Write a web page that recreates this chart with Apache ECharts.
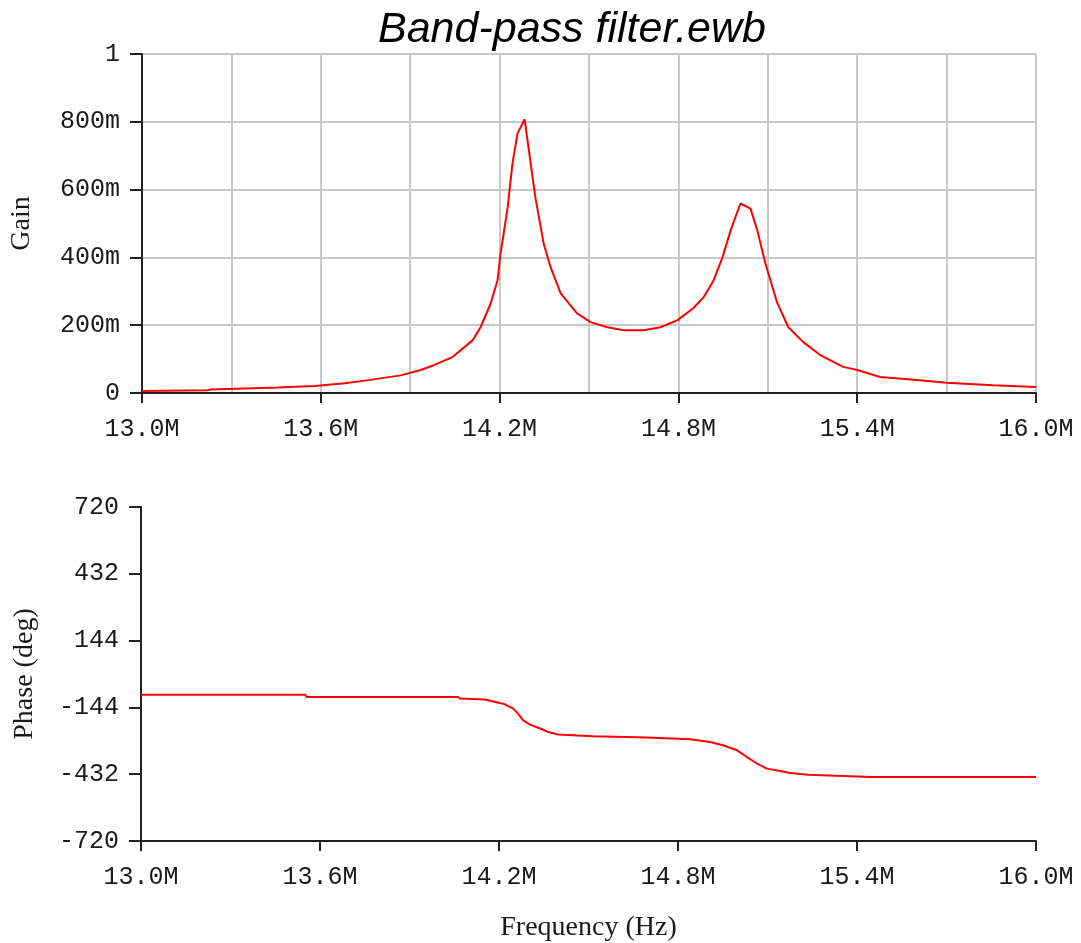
<!DOCTYPE html>
<html>
<head>
<meta charset="utf-8">
<title>Band-pass filter.ewb</title>
<script src="https://cdn.jsdelivr.net/npm/echarts@6/dist/echarts.min.js"></script>
<style>
	html, body { margin: 0; padding: 0; background: #fff; }
	#chart { width: 1081px; height: 943px; }
</style>
</head>
<body>
<div id="chart"></div>
<script>
'use strict'
/*--data--*/
var gainFreq = [13.0, 13.22, 13.23, 13.456, 13.58, 13.68, 13.76, 13.868, 13.935, 13.979,
	14.042, 14.11, 14.136, 14.17, 14.193, 14.203, 14.227, 14.243, 14.26, 14.284,
	14.297, 14.32, 14.348, 14.371, 14.405, 14.46, 14.505, 14.562, 14.616, 14.683,
	14.74, 14.797, 14.85, 14.884, 14.918, 14.948, 14.975, 15.008, 15.042, 15.065,
	15.092, 15.109, 15.132, 15.169, 15.219, 15.276, 15.353, 15.40, 15.477, 15.6,
	15.70, 15.856, 16.0];
var gainValues = [0.006, 0.008, 0.010, 0.016, 0.021, 0.029, 0.038, 0.052, 0.068, 0.082,
	0.106, 0.156, 0.194, 0.264, 0.332, 0.41, 0.547, 0.676, 0.765, 0.808,
	0.724, 0.577, 0.44, 0.371, 0.294, 0.235, 0.209, 0.194, 0.185, 0.185,
	0.194, 0.215, 0.25, 0.282, 0.332, 0.4, 0.479, 0.559, 0.544, 0.479,
	0.382, 0.332, 0.265, 0.194, 0.15, 0.112, 0.077, 0.068, 0.047, 0.038,
	0.030, 0.023, 0.018];

var phaseFreq = [13.0, 13.55, 13.555, 14.063, 14.07, 14.153, 14.187, 14.214, 14.248, 14.264,
	14.281, 14.304, 14.338, 14.365, 14.398, 14.515, 14.696, 14.84, 14.907, 14.951,
	14.998, 15.031, 15.065, 15.098, 15.142, 15.176, 15.236, 15.45, 16.0];
var phaseValues = [-89, -89, -99, -99, -106, -110, -121, -128, -149, -171,
	-200, -218, -235, -250, -261, -268, -274, -281, -293, -307,
	-329, -358, -386, -408, -418, -427, -434, -444, -444];

var freqTicks = [13.0, 13.6, 14.2, 14.8, 15.4, 16.0];
var gainTicks = [0, 0.2, 0.4, 0.6, 0.8, 1];
var phaseTicks = [-720, -432, -144, 144, 432, 720];
/*--data--*/

function pairs(xs, ys) {
	return xs.map(function (x, i) { return [x, ys[i]]; });
}

var monoLabel = {
	fontFamily: 'Liberation Mono',
	fontSize: 25,
	color: '#1a1a1a'
};
var nameStyle = {
	fontFamily: 'Liberation Serif',
	fontSize: 28,
	color: '#1a1a1a'
};
var axisLine = { show: true, onZero: false, lineStyle: { color: '#222', width: 2 } };
var gridLine = { color: '#c8c8c8', width: 2 };

var chart = echarts.init(document.getElementById('chart'));
var option = {
	animation: false,
	backgroundColor: '#fff',
	title: {
		text: 'Band-pass filter.ewb',
		left: 373,
		top: 4,
		textStyle: {
			fontFamily: 'Liberation Sans',
			fontStyle: 'italic',
			fontWeight: 'normal',
			fontSize: 43,
			color: '#000'
		}
	},
	grid: [
		{ left: 141, right: 45, top: 54, height: 339 },
		{ left: 141, right: 45, top: 507, height: 334 }
	],
	xAxis: [{
		gridIndex: 0,
		type: 'value',
		min: 13,
		max: 16,
		interval: 0.6,
		axisLine: axisLine,
		axisTick: { show: true, length: 10, customValues: freqTicks, lineStyle: { color: '#222', width: 2 } },
		minorTick: { show: false, splitNumber: 2 },
		axisLabel: Object.assign({
			margin: 24,
			customValues: freqTicks,
			formatter: function (v) { return v.toFixed(1) + 'M'; }
		}, monoLabel),
		splitLine: { show: true, lineStyle: gridLine },
		minorSplitLine: { show: true, lineStyle: gridLine }
	}, {
		gridIndex: 1,
		type: 'value',
		min: 13,
		max: 16,
		interval: 0.6,
		name: 'Frequency (Hz)',
		nameLocation: 'middle',
		nameGap: 73,
		nameTextStyle: nameStyle,
		axisLine: axisLine,
		axisTick: { show: true, length: 10, customValues: freqTicks, lineStyle: { color: '#222', width: 2 } },
		axisLabel: Object.assign({
			margin: 24,
			customValues: freqTicks,
			formatter: function (v) { return v.toFixed(1) + 'M'; }
		}, monoLabel),
		splitLine: { show: false }
	}],
	yAxis: [{
		gridIndex: 0,
		type: 'value',
		min: 0,
		max: 1,
		interval: 0.2,
		name: 'Gain',
		nameLocation: 'middle',
		nameGap: 106,
		nameTextStyle: nameStyle,
		axisLine: axisLine,
		axisTick: { show: true, length: 12, customValues: gainTicks, lineStyle: { color: '#222', width: 2 } },
		axisLabel: Object.assign({
			margin: 22,
			customValues: gainTicks,
			formatter: function (v) {
				if (v === 0) return '0';
				if (v >= 1) return '1';
				return Math.round(v * 1000) + 'm';
			}
		}, monoLabel),
		splitLine: { show: true, lineStyle: gridLine }
	}, {
		gridIndex: 1,
		type: 'value',
		min: -720,
		max: 720,
		interval: 288,
		name: 'Phase (deg)',
		nameLocation: 'middle',
		nameGap: 102,
		nameTextStyle: nameStyle,
		axisLine: axisLine,
		axisTick: { show: true, length: 12, customValues: phaseTicks, lineStyle: { color: '#222', width: 2 } },
		axisLabel: Object.assign({
			margin: 22,
			customValues: phaseTicks
		}, monoLabel),
		splitLine: { show: false }
	}],
	series: [{
		name: 'Gain',
		type: 'line',
		xAxisIndex: 0,
		yAxisIndex: 0,
		data: pairs(gainFreq, gainValues),
		showSymbol: false,
		lineStyle: { color: '#ff0000', width: 2 },
		itemStyle: { color: '#ff0000' }
	}, {
		name: 'Phase',
		type: 'line',
		xAxisIndex: 1,
		yAxisIndex: 1,
		data: pairs(phaseFreq, phaseValues),
		showSymbol: false,
		lineStyle: { color: '#ff0000', width: 2 },
		itemStyle: { color: '#ff0000' }
	}]
};
chart.setOption(option);
</script>
</body>
</html>
